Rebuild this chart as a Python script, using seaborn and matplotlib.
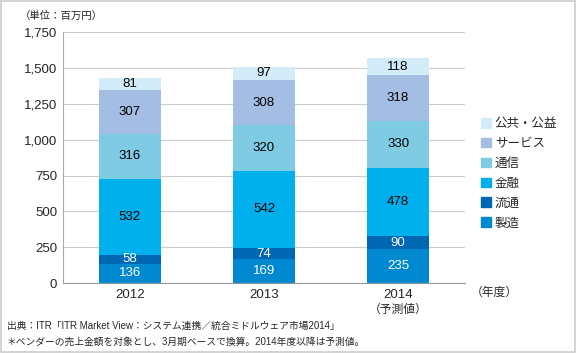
import numpy as np
import matplotlib
matplotlib.use("Agg")
import matplotlib.pyplot as plt
import seaborn as sns
from matplotlib.patches import Rectangle, Patch

years = ["2012", "2013", "2014"]
categories = ["製造", "流通", "金融", "通信", "サービス", "公共・公益"]
seizou = [136, 169, 235]
ryutsu = [58, 74, 90]
kinyu = [532, 542, 478]
tsushin = [316, 320, 330]
service = [307, 308, 318]
koukyou = [81, 97, 118]
colors = ["#0088d1", "#0067b3", "#00b0ec", "#7fcbe3", "#a3bde3", "#d3ecf9"]
label_colors = ["white", "white", "black", "black", "black", "black"]

sns.set_style("white")
plt.rcParams['font.family'] = ['Liberation Sans', 'Noto Sans CJK JP', 'DejaVu Sans']

fig = plt.figure(figsize=(5.77, 3.53), dpi=100)
ax = fig.add_axes([0.109, 0.198, 0.697, 0.711])

series = [seizou, ryutsu, kinyu, tsushin, service, koukyou]
bottom = np.zeros(len(years))
for vals, col, lc in zip(series, colors, label_colors):
    sns.barplot(x=years, y=vals, bottom=bottom, color=col, width=0.46,
                saturation=1, ax=ax, edgecolor="none")
    cont = ax.containers[-1]
    ax.bar_label(cont, labels=[str(v) for v in vals], label_type="center",
                 color=lc, fontsize=9.5)
    bottom += np.array(vals)

ax.set_ylim(0, 1750)
ax.set_xlim(-0.5, 2.5)
ax.set_yticks(range(0, 1751, 250))
ax.set_yticklabels([f"{v:,}" for v in range(0, 1751, 250)], fontsize=9.5)
ax.set_xticklabels(years, fontsize=9.5)
ax.tick_params(axis="both", length=0, pad=4)
ax.set_xticks([0.5, 1.5], minor=True)
ax.tick_params(axis="x", which="minor", length=3, color="#999999")
ax.grid(axis="y", color="#cccccc", linewidth=0.8)
ax.set_axisbelow(True)
for s in ["top", "right"]:
    ax.spines[s].set_visible(False)
ax.spines["left"].set_color("#aaaaaa")
ax.spines["bottom"].set_color("#999999")
ax.set_xlabel("")
ax.set_ylabel("")

handles = [Patch(color=c) for c in colors][::-1]
fig.legend(handles, categories[::-1], loc="upper left", bbox_to_anchor=(0.825, 0.68),
           frameon=False, fontsize=9, handlelength=0.8, handleheight=0.8,
           handletextpad=0.3, labelspacing=0.62, borderaxespad=0)

fig.text(0.035, 0.955, "（単位：百万円）", fontsize=7.5, va="center")
fig.text(0.815, 0.17, "（年度）", fontsize=8.5, va="center")
ax.text(2, -0.105, "（予測値）", fontsize=8.5, ha="center", va="center",
        transform=ax.get_xaxis_transform())
fig.text(0.012, 0.078, "出典：ITR「ITR Market View：システム連携／統合ミドルウェア市場2014」",
         fontsize=7, va="center")
fig.text(0.012, 0.033, "＊ベンダーの売上金額を対象とし、3月期ベースで換算。2014年度以降は予測値。",
         fontsize=7, va="center")

fig.patches.append(Rectangle((0.002, 0.003), 0.995, 0.993, transform=fig.transFigure,
                             fill=False, edgecolor="#cccccc", linewidth=1.2))

fig.savefig("out.png", dpi=100)
